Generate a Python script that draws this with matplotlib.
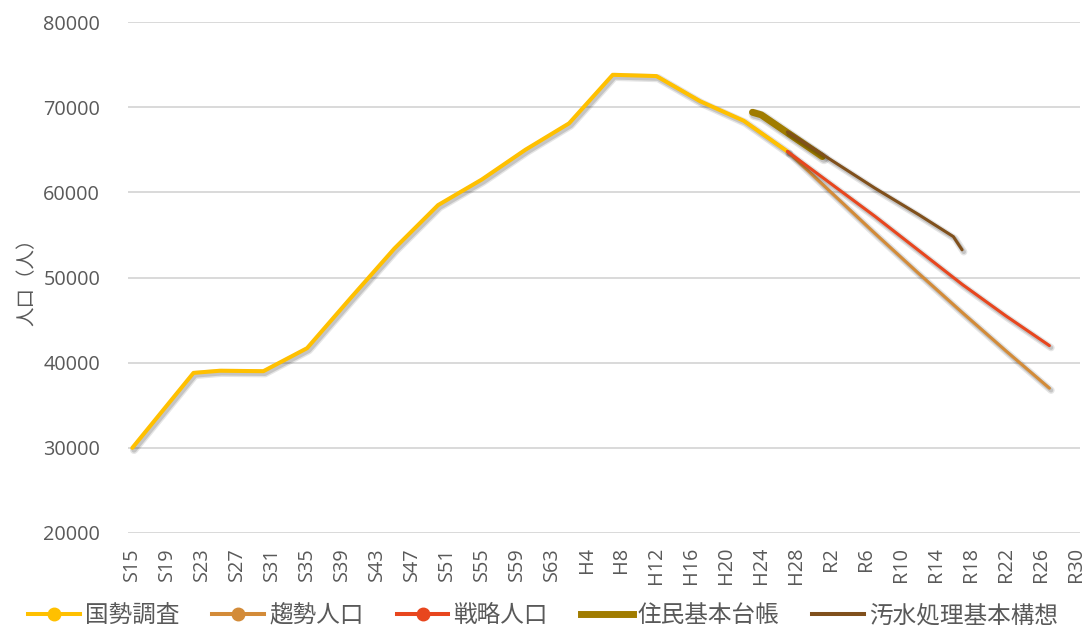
import matplotlib
matplotlib.use("Agg")
import matplotlib.pyplot as plt
from matplotlib.lines import Line2D
import matplotlib.patheffects as pe

plt.rcParams['font.family'] = ['Open Sans', 'Noto Sans CJK JP', 'DejaVu Sans']

# --- data -------------------------------------------------------------
census_years = [1940, 1947, 1950, 1955, 1960, 1965, 1970, 1975, 1980,
                1985, 1990, 1995, 2000, 2005, 2010, 2015]
census_pop = [30000, 38800, 39050, 39000, 41700, 47600, 53400, 58500, 61500,
              65000, 68100, 73800, 73650, 70700, 68400, 64800]

proj_years = [2015, 2020, 2025, 2030, 2035, 2040, 2045]
trend_pop = [64800, 60000, 55200, 50500, 45900, 41400, 37000]
strategy_pop = [64800, 61000, 57200, 53200, 49200, 45500, 42000]

registry_years = [2011, 2012, 2013, 2014, 2015, 2016, 2017, 2018, 2019]
registry_pop = [69400, 69100, 68400, 67700, 67000, 66300, 65600, 64900, 64200]

sewage_years = [2015, 2020, 2025, 2030, 2034, 2035]
sewage_pop = [67100, 63800, 60500, 57400, 54800, 53250]

tick_years = list(range(1940, 2049, 4))
tick_labels = ['S15', 'S19', 'S23', 'S27', 'S31', 'S35', 'S39', 'S43', 'S47',
               'S51', 'S55', 'S59', 'S63', 'H4', 'H8', 'H12', 'H16', 'H20',
               'H24', 'H28', 'R2', 'R6', 'R10', 'R14', 'R18', 'R22', 'R26', 'R30']

series_names = ['国勢調査', '趨勢人口', '戦略人口', '住民基本台帳', '汚水処理基本構想']
colors = ['#FFC000', '#D38B38', '#E8461E', '#A07C00', '#80501C']

# --- figure -----------------------------------------------------------
W, H = 1086, 638
fig = plt.figure(figsize=(W / 100, H / 100), dpi=100)
ax = fig.add_axes([128 / W, 1 - 533 / H, (1080 - 128) / W, (533 - 22) / H])

TEXT = '#595959'


def shadow(lw):
    return [pe.SimpleLineShadow(offset=(1.2, -1.5), shadow_color='black',
                                alpha=0.10, linewidth=lw + 3.0),
            pe.SimpleLineShadow(offset=(1.2, -1.5), shadow_color='black',
                                alpha=0.14, linewidth=lw + 1.0),
            pe.Normal()]


line_kw = dict(solid_joinstyle='round', solid_capstyle='round')
widths = [2.9, 2.2, 2.2, 5.0, 2.2]

ax.plot(census_years, census_pop, color=colors[0], lw=widths[0],
        path_effects=shadow(widths[0]), zorder=3, **line_kw)
ax.plot(proj_years, trend_pop, color=colors[1], lw=widths[1],
        path_effects=shadow(widths[1]), zorder=3, **line_kw)
ax.plot(proj_years, strategy_pop, color=colors[2], lw=widths[2],
        path_effects=shadow(widths[2]), zorder=4, **line_kw)
ax.plot(registry_years, registry_pop, color=colors[3], lw=widths[3],
        path_effects=shadow(widths[3]), zorder=5, **line_kw)
ax.plot(sewage_years, sewage_pop, color=colors[4], lw=widths[4],
        path_effects=shadow(widths[4]), zorder=6, **line_kw)

# axes styling
ax.set_xlim(1939.5, 2048.5)
ax.set_ylim(20000, 80000)
ax.set_yticks(range(20000, 80001, 10000))
ax.set_yticklabels([str(v) for v in range(20000, 80001, 10000)])
ax.set_xticks(tick_years)
ax.set_xticklabels(tick_labels, rotation=90)
ax.tick_params(axis='both', length=0, colors=TEXT, labelsize=14.3)
ax.tick_params(axis='y', pad=20)
ax.tick_params(axis='x', pad=10)
ax.yaxis.grid(True, color='#D9D9D9', lw=1.4)
ax.set_axisbelow(True)
for s in ax.spines.values():
    s.set_visible(False)

ax.set_ylabel('人口（人）', color=TEXT, fontsize=14, labelpad=5)

# legend
handles = []
for i, (name, c) in enumerate(zip(series_names, colors)):
    if i < 3:
        handles.append(Line2D([], [], color=c, lw=2.9, marker='o',
                              markersize=9, markerfacecolor=c,
                              markeredgecolor=c))
    else:
        handles.append(Line2D([], [], color=c, lw=widths[i] if i == 3 else 2.9))
fig.legend(handles, series_names, loc='center', ncol=5,
           bbox_to_anchor=(0.5, 1 - 616 / H), frameon=False,
           fontsize=17, labelcolor=TEXT, handlelength=2.2,
           handletextpad=0.2, columnspacing=1.4)

fig.savefig('out.png', dpi=100)
